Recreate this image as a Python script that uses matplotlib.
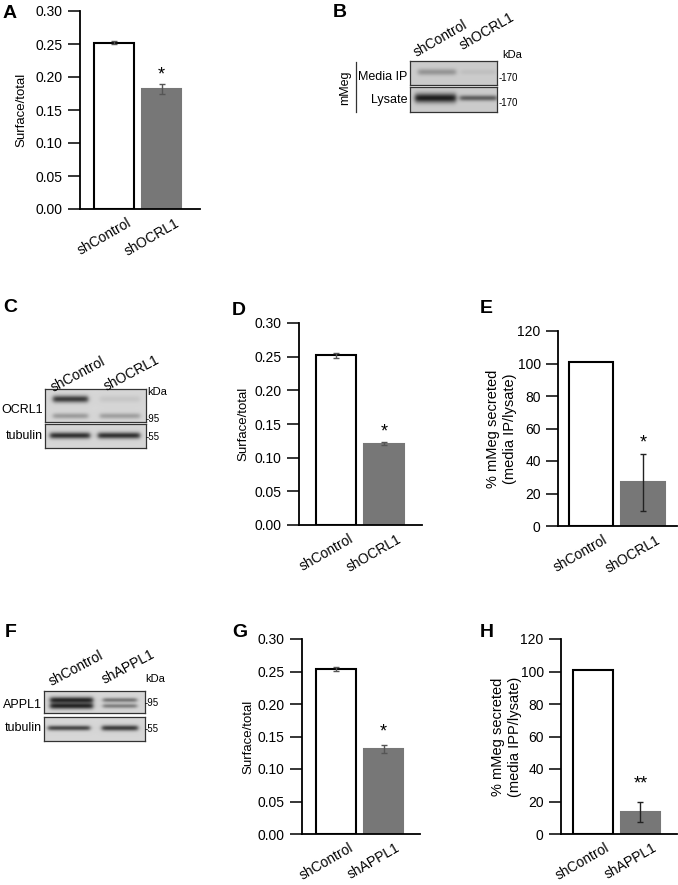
import numpy as np
import matplotlib
matplotlib.use('Agg')
import matplotlib.pyplot as plt
import matplotlib.transforms as mtransforms
from matplotlib.lines import Line2D

plt.rcParams['font.family'] = ['Liberation Sans', 'DejaVu Sans']

W, H = 678, 885

# ---------------- bar chart data ----------------
cats_A = ['shControl', 'shOCRL1']
vals_A = [0.252, 0.182]
errs_A = [0.002, 0.007]
star_A = ('*', 0.203)

cats_D = ['shControl', 'shOCRL1']
vals_D = [0.252, 0.121]
errs_D = [0.004, 0.002]
star_D = ('*', 0.138)

cats_E = ['shControl', 'shOCRL1']
vals_E = [101, 27]
errs_E = [0, 17.5]
star_E = ('*', 51)

cats_G = ['shControl', 'shAPPL1']
vals_G = [0.254, 0.131]
errs_G = [0.003, 0.006]
star_G = ('*', 0.157)

cats_H = ['shControl', 'shAPPL1']
vals_H = [101, 13.5]
errs_H = [0, 6.3]
star_H = ('**', 31)

surface_ticks = [0.00, 0.05, 0.10, 0.15, 0.20, 0.25, 0.30]
secreted_ticks = [0, 20, 40, 60, 80, 100, 120]

# ---------------- blot data (band darkness per lane) ----------------
lanes_B = ['shControl', 'shOCRL1']
rows_B = ['Media IP', 'Lysate']
band_B_media = [0.30, 0.07]
band_B_lysate = [0.95, 0.60]
markers_B = ['170', '170']

lanes_C = ['shControl', 'shOCRL1']
rows_C = ['OCRL1', 'tubulin']
band_C_upper = [0.80, 0.08]
band_C_lower = [0.30, 0.28]
band_C_tubulin = [0.85, 0.85]
markers_C = ['95', '55']

lanes_F = ['shControl', 'shAPPL1']
rows_F = ['APPL1', 'tubulin']
band_F_upper = [0.90, 0.50]
band_F_lower = [0.90, 0.45]
band_F_tubulin = [0.75, 0.80]
markers_F = ['95', '55']

fig = plt.figure(figsize=(W / 100, H / 100), dpi=100)


def rect(l, t, r, b):
    return [l / W, 1 - b / H, (r - l) / W, (b - t) / H]


def fx(x):
    return x / W


def fy(y):
    return 1 - y / H


def bar_panel(box, cats, vals, errs, yticks, fmt, ylabel, star, xlim,
              ylabel_x, ecolor, ylabel_size=9.5):
    ax = fig.add_axes(rect(*box))
    x = np.arange(len(cats))
    ax.bar(x, vals, width=0.83, color=['white', '#777777'],
           edgecolor=['black', '#777777'], linewidth=1.5, zorder=2)
    for xi, v, e in zip(x, vals, errs):
        if e > 0:
            ax.errorbar(xi, v, yerr=e, fmt='none', ecolor=ecolor,
                        elinewidth=1.0, capsize=2.5, capthick=1.0, zorder=3)
    ax.text(x[-1], star[1], star[0], ha='center', va='center', fontsize=13)
    ax.set_xlim(*xlim)
    ax.set_ylim(yticks[0], yticks[-1])
    ax.set_yticks(yticks)
    ax.set_yticklabels([fmt.format(t) for t in yticks], fontsize=10)
    ax.set_xticks([])
    trans = (mtransforms.blended_transform_factory(ax.transData, ax.transAxes)
             + mtransforms.ScaledTranslation(-10 / 100, -7 / 100, fig.dpi_scale_trans))
    for xi, c in zip(x, cats):
        ax.text(xi, 0, c, transform=trans, rotation=30, ha='center', va='top',
                fontsize=10)
    ax.tick_params(axis='y', length=8.5, width=1.1, pad=4)
    for s in ['top', 'right']:
        ax.spines[s].set_visible(False)
    for s in ['left', 'bottom']:
        ax.spines[s].set_linewidth(1.3)
    ax.set_ylabel(ylabel, fontsize=ylabel_size, linespacing=1.25)
    ax.yaxis.set_label_coords(ylabel_x, 0.5)
    ax.set_facecolor('none')
    return ax


bar_panel((80, 11, 200, 209), cats_A, vals_A, errs_A, surface_ticks, '{:.2f}',
          'Surface/total', star_A, (-0.72, 1.81), -0.44, '#555555')
bar_panel((299, 323, 422, 525), cats_D, vals_D, errs_D, surface_ticks, '{:.2f}',
          'Surface/total', star_D, (-0.77, 1.79), -0.40, '#555555')
bar_panel((558, 331, 677, 526), cats_E, vals_E, errs_E, secreted_ticks, '{:d}',
          '% mMeg secreted\n(media IP/lysate)', star_E, (-0.63, 1.65), -0.345,
          '#222222', ylabel_size=10.5)
bar_panel((302, 639, 420, 834), cats_G, vals_G, errs_G, surface_ticks, '{:.2f}',
          'Surface/total', star_G, (-0.72, 1.77), -0.40, '#555555')
bar_panel((561, 639, 677, 834), cats_H, vals_H, errs_H, secreted_ticks, '{:d}',
          '% mMeg secreted\n(media IPP/lysate)', star_H, (-0.67, 1.77), -0.336,
          '#222222', ylabel_size=10.5)


# ---------------- blots ----------------
def strip(box, lane_x, bands, bg=0.82):
    l, t, r, b = box
    ax = fig.add_axes(rect(l, t, r, b))
    xs = np.linspace(l, r, int((r - l) * 4))
    ys = np.linspace(t, b, int((b - t) * 4))
    X, Y = np.meshgrid(xs, ys)
    dark = np.zeros_like(X)
    for yc, sigs, intens in bands:
        for (x0, x1), sy, a in zip(lane_x, sigs, intens):
            px = 0.5 * (np.tanh((X - x0) / 2.5) - np.tanh((X - x1) / 2.5))
            py = np.exp(-0.5 * ((Y - yc) / sy) ** 2)
            dark += a * px * py
    dark = np.clip(dark, 0, 1)
    img = bg * (1 - 0.9 * dark)
    ax.imshow(img, cmap='gray', vmin=0, vmax=1, extent=(l, r, b, t),
              aspect='auto', interpolation='bilinear')
    ax.set_xlim(l, r)
    ax.set_ylim(b, t)
    ax.set_xticks([])
    ax.set_yticks([])
    for s in ax.spines.values():
        s.set_color('#333333')
        s.set_linewidth(0.9)
    return ax


# B
strip((410, 61, 497, 85), [(418, 456), (461, 496)],
      [(72, [2.3, 2.0], band_B_media)], bg=0.80)
strip((410, 87, 497, 112), [(415, 456), (460, 497)],
      [(98, [3.3, 2.0], band_B_lysate)], bg=0.80)
for txt, y in zip(rows_B, [77, 100]):
    fig.text(fx(407), fy(y), txt, ha='right', va='center', fontsize=9)
for txt, y in zip(markers_B, [78, 103]):
    fig.text(fx(499), fy(y), '-' + txt, ha='left', va='center', fontsize=7)
fig.text(fx(502), fy(55), 'kDa', ha='left', va='center', fontsize=8)
fig.text(fx(345), fy(88), 'mMeg', ha='center', va='center', rotation=90, fontsize=9)
fig.add_artist(Line2D([fx(356), fx(356)], [fy(62), fy(112)], color='#333333', lw=0.9))
for txt, (x, y) in zip(lanes_B, [(417, 57), (463, 50)]):
    fig.text(fx(x), fy(y), txt, ha='left', va='baseline', rotation=30,
             rotation_mode='anchor', fontsize=10)

# C
strip((45, 389, 146, 422), [(53, 88), (100, 140)],
      [(399, [2.5, 2.5], band_C_upper), (416, [2.0, 2.0], band_C_lower)], bg=0.84)
strip((45, 424, 146, 448), [(50, 90), (98, 140)],
      [(436, [2.2, 2.2], band_C_tubulin)], bg=0.84)
for txt, y in zip(rows_C, [410, 436]):
    fig.text(fx(43), fy(y), txt, ha='right', va='center', fontsize=9)
for txt, y in zip(markers_C, [419, 437]):
    fig.text(fx(146), fy(y), '-' + txt, ha='left', va='center', fontsize=7)
fig.text(fx(147), fy(392), 'kDa', ha='left', va='center', fontsize=8)
for txt, (x, y) in zip(lanes_C, [(54, 392), (107, 391)]):
    fig.text(fx(x), fy(y), txt, ha='left', va='baseline', rotation=28,
             rotation_mode='anchor', fontsize=10)

# F
strip((44, 691, 145, 713), [(50, 93), (103, 137)],
      [(700, [2.2, 1.6], band_F_upper), (706, [2.2, 1.6], band_F_lower)], bg=0.84)
strip((44, 717, 145, 741), [(48, 90), (102, 138)],
      [(728, [1.8, 2.0], band_F_tubulin)], bg=0.84)
for txt, y in zip(rows_F, [705, 728]):
    fig.text(fx(42), fy(y), txt, ha='right', va='center', fontsize=9)
for txt, y in zip(markers_F, [703, 729]):
    fig.text(fx(145), fy(y), '-' + txt, ha='left', va='center', fontsize=7)
fig.text(fx(145), fy(679), 'kDa', ha='left', va='center', fontsize=8)
for txt, (x, y) in zip(lanes_F, [(52, 686), (105, 684)]):
    fig.text(fx(x), fy(y), txt, ha='left', va='baseline', rotation=28,
             rotation_mode='anchor', fontsize=10)

# panel letters
for letter, (x, y) in zip('ABCDEFGH', [(3, 18), (333, 17), (3, 312), (232, 315),
                                      (480, 313), (5, 637), (232, 637), (480, 637)]):
    fig.text(fx(x), fy(y), letter, ha='left', va='baseline', fontsize=14,
             fontweight='bold')

fig.savefig('out.png', dpi=100)
